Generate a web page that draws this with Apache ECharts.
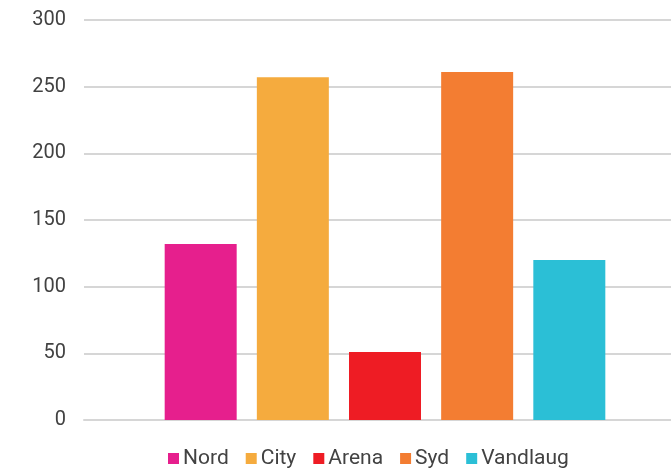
<!DOCTYPE html>
<html>
<head>
<meta charset="utf-8">
<script src="https://cdn.jsdelivr.net/npm/echarts@6/dist/echarts.min.js"></script>
<style>
  html, body { margin: 0; padding: 0; background: #fff; }
  #chart { width: 671px; height: 469px; }
</style>
</head>
<body>
<div id="chart"></div>
<script>
// data
let names = ['Nord', 'City', 'Arena', 'Syd', 'Vandlaug']
let values = [132, 257, 51, 261, 120]
let colors = ['#E61F8D', '#F5AB3E', '#EE1C24', '#F37D32', '#2BBFD6']
let yTicks = [0, 50, 100, 150, 200, 250, 300]

let series = []
names.forEach(function (name, i) {
    series.push({
        name: name,
        type: 'bar',
        data: [values[i]],
        barWidth: 72,
        barGap: '28%',
        itemStyle: { color: colors[i] }
    })
})

echarts.init(document.querySelector('#chart')).setOption({
    animation: false,
    textStyle: { fontFamily: 'Roboto' },
    grid: {
        left: 84,
        top: 20,
        width: 602,
        bottom: 49,
        outerBoundsMode: 'none',
        containLabel: false
    },
    legend: {
        top: 448,
        left: 168,
        padding: 0,
        itemWidth: 11,
        itemHeight: 11,
        itemGap: 17,
        icon: 'rect',
        textStyle: { fontSize: 21, color: '#424242', padding: [0, 0, 0, -1] }
    },
    xAxis: {
        type: 'category',
        data: [''],
        axisLine: { lineStyle: { color: '#d6d6d6', width: 2 } },
        axisTick: { show: false },
        axisLabel: { show: false }
    },
    yAxis: {
        type: 'value',
        min: yTicks[0],
        max: yTicks[yTicks.length - 1],
        interval: 50,
        axisLine: { show: false },
        axisTick: { show: false },
        axisLabel: { fontSize: 20, color: '#424242', margin: 18 },
        splitLine: { lineStyle: { color: '#d6d6d6', width: 2 } }
    },
    series: series
});
</script>
</body>
</html>
